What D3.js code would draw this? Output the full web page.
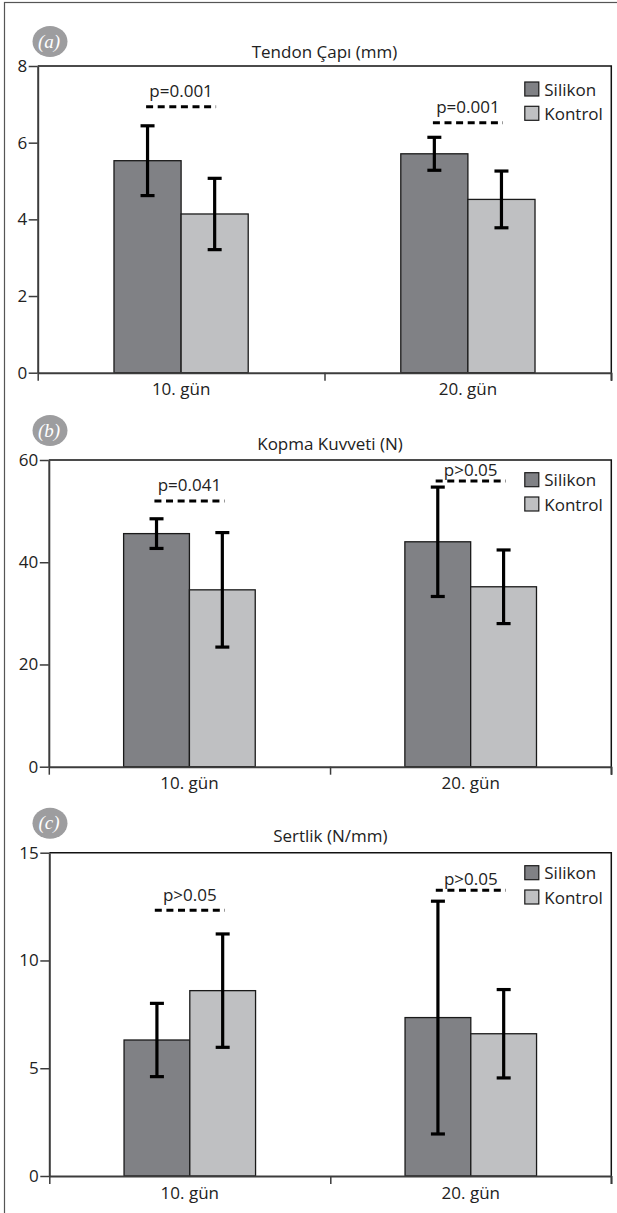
<!DOCTYPE html>
<html>
<head>
<meta charset="utf-8">
<script src="https://cdnjs.cloudflare.com/ajax/libs/d3/7.8.5/d3.min.js"></script>
<style>
  body { margin: 0; background: #fff; }
  text { font-family: "Open Sans", "Noto Sans", sans-serif; fill: #222; }
</style>
</head>
<body>
<svg id="chart"></svg>
<script>
// three panels, same two groups, same two days
const CATEGORIES = ["10. gün", "20. gün"];
const SERIES = ["Silikon", "Kontrol"];

// (a) tendon diameter
const TENDON_SILIKON = [5.53, 5.71];
const TENDON_SILIKON_SD = [0.91, 0.43];
const TENDON_KONTROL = [4.14, 4.52];
const TENDON_KONTROL_SD = [0.93, 0.74];
const TENDON_P = ["p=0.001", "p=0.001"];
const TENDON_P_LEVEL = [6.94, 6.52];
const TENDON_TICKS = [0, 2, 4, 6, 8];

// (b) breaking force
const KOPMA_SILIKON = [45.6, 44.0];
const KOPMA_SILIKON_SD = [2.9, 10.7];
const KOPMA_KONTROL = [34.6, 35.2];
const KOPMA_KONTROL_SD = [11.2, 7.2];
const KOPMA_P = ["p=0.041", "p>0.05"];
const KOPMA_P_LEVEL = [52.0, 55.9];
const KOPMA_TICKS = [0, 20, 40, 60];

// (c) stiffness
const SERTLIK_SILIKON = [6.31, 7.35];
const SERTLIK_SILIKON_SD = [1.7, 5.4];
const SERTLIK_KONTROL = [8.60, 6.60];
const SERTLIK_KONTROL_SD = [2.63, 2.05];
const SERTLIK_P = ["p>0.05", "p>0.05"];
const SERTLIK_P_LEVEL = [12.33, 13.26];
const SERTLIK_TICKS = [0, 5, 10, 15];

const WIDTH = 617;
const HEIGHT = 1213;
const COLORS = ["#808185", "#bfc0c2"];

const svg = d3.select("#chart")
    .attr("width", WIDTH)
    .attr("height", HEIGHT);

// outer frame, right and bottom edges fall outside the picture
svg.append("rect")
    .attr("x", 4.5)
    .attr("y", 2.5)
    .attr("width", WIDTH + 10)
    .attr("height", HEIGHT + 10)
    .attr("fill", "none")
    .attr("stroke", "#555")
    .attr("stroke-width", 1.2);

function rows(silikon, silikonSd, kontrol, kontrolSd) {
    return CATEGORIES.map(function(c, i) {
        return {
            cat: c,
            bars: [
                { series: SERIES[0], value: silikon[i], sd: silikonSd[i] },
                { series: SERIES[1], value: kontrol[i], sd: kontrolSd[i] }
            ]
        };
    });
}

function drawPanel(p) {
    var g = svg.append("g");

    var x0 = d3.scaleBand()
        .domain(CATEGORIES)
        .range([p.left, p.right]);
    var pairW = x0.bandwidth() * 0.468;
    var x1 = d3.scaleBand()
        .domain(SERIES)
        .range([-pairW / 2, pairW / 2]);
    var y = d3.scaleLinear()
        .domain([0, d3.max(p.ticks)])
        .range([p.bottom, p.top]);
    var color = d3.scaleOrdinal(SERIES, COLORS);

    // badge
    g.append("ellipse")
        .attr("cx", 50)
        .attr("cy", p.top + p.badgeDy)
        .attr("rx", 17.5)
        .attr("ry", 15.5)
        .attr("fill", "#9d9d9f");
    g.append("text")
        .attr("x", 49)
        .attr("y", p.top + p.badgeDy + 6)
        .attr("text-anchor", "middle")
        .style("font-family", "'Liberation Serif', 'DejaVu Serif', serif")
        .style("font-style", "italic")
        .style("font-size", "19px")
        .style("fill", "#fff")
        .text(p.badge);

    // title
    g.append("text")
        .attr("x", (p.left + p.right) / 2)
        .attr("y", p.top - p.titleGap)
        .attr("text-anchor", "middle")
        .style("font-size", "17px")
        .text(p.title);

    // top and right frame of the plot
    g.append("path")
        .attr("d", "M" + p.left + "," + y.range()[1] + "H" + p.right + "V" + (p.bottom + 8))
        .attr("fill", "none")
        .attr("stroke", "#111")
        .attr("stroke-width", 1.5);

    // bars
    var groups = g.selectAll(".grp")
        .data(p.data)
        .enter().append("g")
        .attr("class", "grp")
        .attr("transform", function(d) {
            return "translate(" + (x0(d.cat) + x0.bandwidth() / 2) + ",0)";
        });

    groups.selectAll("rect")
        .data(function(d) { return d.bars; })
        .enter().append("rect")
        .attr("x", function(d) { return x1(d.series); })
        .attr("y", function(d) { return y(d.value); })
        .attr("width", x1.bandwidth())
        .attr("height", function(d) { return y(0) - y(d.value); })
        .attr("fill", function(d) { return color(d.series); })
        .attr("stroke", "#1a1a1a")
        .attr("stroke-width", 1.3);

    // error bars
    var err = groups.selectAll(".err")
        .data(function(d) { return d.bars; })
        .enter().append("g")
        .attr("class", "err")
        .attr("transform", function(d) {
            return "translate(" + (x1(d.series) + x1.bandwidth() / 2) + ",0)";
        })
        .attr("stroke", "#000")
        .attr("stroke-width", 3.2);
    err.append("line")
        .attr("y1", function(d) { return y(d.value + d.sd); })
        .attr("y2", function(d) { return y(d.value - d.sd); });
    err.append("line")
        .attr("x1", -7).attr("x2", 7)
        .attr("y1", function(d) { return y(d.value + d.sd); })
        .attr("y2", function(d) { return y(d.value + d.sd); });
    err.append("line")
        .attr("x1", -7).attr("x2", 7)
        .attr("y1", function(d) { return y(d.value - d.sd); })
        .attr("y2", function(d) { return y(d.value - d.sd); });

    // significance marks
    var sig = groups.append("g");
    sig.append("line")
        .attr("x1", -35)
        .attr("x2", 35)
        .attr("y1", function(d, i) { return y(p.pLevel[i]); })
        .attr("y2", function(d, i) { return y(p.pLevel[i]); })
        .attr("stroke", "#000")
        .attr("stroke-width", 3)
        .attr("stroke-dasharray", "7,4.6");
    sig.append("text")
        .attr("x", 0)
        .attr("y", function(d, i) { return y(p.pLevel[i]) - p.pGap[i]; })
        .attr("text-anchor", "middle")
        .style("font-size", "17px")
        .text(function(d, i) { return p.pText[i]; });

    // y axis
    var yAxis = g.append("g")
        .attr("transform", "translate(" + p.left + ",0)")
        .style("color", "#3c3c3c")
        .call(d3.axisLeft(y).tickValues(p.ticks).tickSize(9).tickPadding(1.5).tickSizeOuter(0));
    yAxis.select(".domain").attr("stroke-width", 2);
    yAxis.selectAll(".tick line").attr("stroke-width", 1.5);
    yAxis.selectAll(".tick text")
        .style("font-size", "17px")
        .style("font-family", "'Open Sans', sans-serif")
        .style("fill", "#222");

    // x axis: labels in the bands, ticks on the band edges
    var xAxis = g.append("g")
        .attr("transform", "translate(0," + p.bottom + ")")
        .style("color", "#3c3c3c")
        .call(d3.axisBottom(x0).tickSize(0).tickPadding(10.7));
    xAxis.select(".domain").attr("stroke-width", 2);
    xAxis.selectAll(".tick text")
        .style("font-size", "17px")
        .style("font-family", "'Open Sans', sans-serif")
        .style("fill", "#222");

    var edge = d3.scaleLinear()
        .domain([0, CATEGORIES.length])
        .range([p.left, p.right]);
    var edges = g.append("g")
        .attr("transform", "translate(0," + p.bottom + ")")
        .style("color", "#3c3c3c")
        .call(d3.axisBottom(edge).tickValues(d3.range(CATEGORIES.length + 1)).tickFormat("").tickSize(8));
    edges.select(".domain").remove();
    edges.selectAll(".tick line").attr("stroke-width", 1.5);

    // legend
    var legend = g.selectAll(".legend")
        .data(SERIES)
        .enter().append("g")
        .attr("class", "legend")
        .attr("transform", function(d, i) {
            return "translate(" + (p.right - 86.5) + "," + (p.top + p.legendDy + i * 24.3) + ")";
        });
    legend.append("rect")
        .attr("width", 14)
        .attr("height", 14)
        .attr("fill", color)
        .attr("stroke", "#1a1a1a")
        .attr("stroke-width", 1.2);
    legend.append("text")
        .attr("x", 19.5)
        .attr("y", 13.5)
        .style("font-size", "17px")
        .text(function(d) { return d; });
}

drawPanel({
    badge: "(a)", title: "Tendon Çapı (mm)",
    left: 37.7, right: 611.3, top: 66, bottom: 372.7,
    ticks: TENDON_TICKS,
    data: rows(TENDON_SILIKON, TENDON_SILIKON_SD, TENDON_KONTROL, TENDON_KONTROL_SD),
    pText: TENDON_P, pLevel: TENDON_P_LEVEL, pGap: [9.5, 9.5],
    badgeDy: -24.5, titleGap: 8, legendDy: 16
});

drawPanel({
    badge: "(b)", title: "Kopma Kuvveti (N)",
    left: 48.8, right: 611.3, top: 460, bottom: 766.7,
    ticks: KOPMA_TICKS,
    data: rows(KOPMA_SILIKON, KOPMA_SILIKON_SD, KOPMA_KONTROL, KOPMA_KONTROL_SD),
    pText: KOPMA_P, pLevel: KOPMA_P_LEVEL, pGap: [9.5, 5],
    badgeDy: -29.5, titleGap: 10.5, legendDy: 12.7
});

drawPanel({
    badge: "(c)", title: "Sertlik (N/mm)",
    left: 49.3, right: 611.3, top: 852.7, bottom: 1176,
    ticks: SERTLIK_TICKS,
    data: rows(SERTLIK_SILIKON, SERTLIK_SILIKON_SD, SERTLIK_KONTROL, SERTLIK_KONTROL_SD),
    pText: SERTLIK_P, pLevel: SERTLIK_P_LEVEL, pGap: [9.5, 5],
    badgeDy: -29.5, titleGap: 11, legendDy: 13
});
</script>
</body>
</html>
